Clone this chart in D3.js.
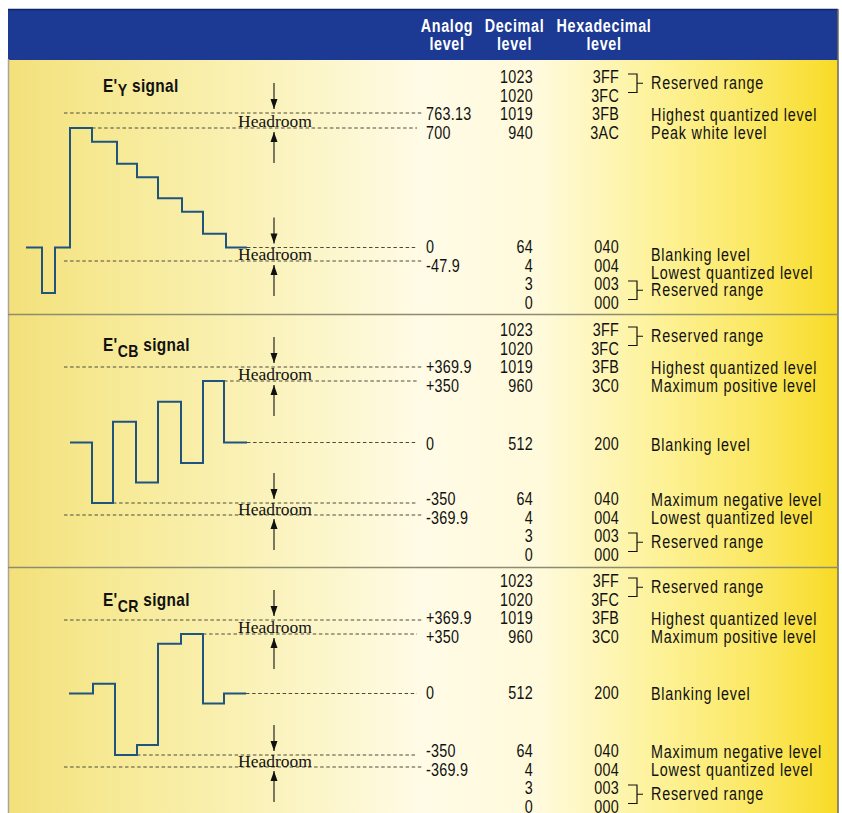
<!DOCTYPE html>
<html><head><meta charset="utf-8">
<script src="https://cdn.jsdelivr.net/npm/d3@7"></script>
<style>body{margin:0;background:#fff}svg{display:block}</style>
</head><body>
<svg id="c" width="842" height="813"></svg>
<script>
// ---------------- DATA ----------------
const headerTop = ["Analog", "Decimal", "Hexadecimal"];
const headerBottom = ["level", "level", "level"];

const signalSubs = ["Y", "CB", "CR"];

// step signals: edge times (arbitrary time units) and level (mV) of each segment
const yTimes  = [0, 16, 29, 44, 66, 91, 111, 132, 156, 177, 200, 221];
const yLevels = [0, -300, 0, 700, 620, 491, 411, 289, 209, 80, 0];
const cbTimes  = [44, 66, 87, 110, 132, 155, 177, 198, 221];
const cbLevels = [0, -350, 118, -232, 232, -118, 350, 0];
const crTimes  = [43, 67, 89, 111, 132, 155, 177, 198, 220];
const crLevels = [0, 57, -350, -293, 293, 350, -57, 0];

// reference levels (mV) drawn as dashed lines
const yRefLevels  = [763.13, 700, 0, -47.9];
const cbRefLevels = [369.9, 350, 0, -350, -369.9];
const crRefLevels = [369.9, 350, 0, -350, -369.9];

// analog labels
const yAnalog  = ["763.13", "700", "0", "-47.9"];
const cbAnalog = ["+369.9", "+350", "0", "-350", "-369.9"];
const crAnalog = ["+369.9", "+350", "0", "-350", "-369.9"];

// decimal / hex code columns (top block, middle, bottom block)
const yDecTop = ["1023", "1020", "1019", "940"], yHexTop = ["3FF", "3FC", "3FB", "3AC"];
const cDecTop = ["1023", "1020", "1019", "960"], cHexTop = ["3FF", "3FC", "3FB", "3C0"];
const decMid = ["512"], hexMid = ["200"];
const decBot = ["64", "4", "3", "0"], hexBot = ["040", "004", "003", "000"];

// descriptions
const yDesc = ["Highest quantized level", "Peak white level", "Blanking level", "Lowest quantized level"];
const cDesc = ["Highest quantized level", "Maximum positive level", "Blanking level", "Maximum negative level", "Lowest quantized level"];
const reservedLabel = "Reserved range";
const headroomLabel = "Headroom";

// ---------------- LAYOUT ----------------
const SANS = "'Liberation Sans',Arial,sans-serif";
const SERIF = "'Liberation Serif','DejaVu Serif',serif";
const SX = 0.82; // horizontal condensing of sans text
const STEP = 18.5;
const x = d3.scaleLinear().domain([0, 221]).range([26, 247]);

const panels = [
  { sub: signalSubs[0], titleY: 92, subShift: 4,
    times: yTimes, levels: yLevels, refs: yRefLevels, analog: yAnalog,
    y: d3.scaleLinear().domain([-300, -47.9, 0, 700, 763.13]).range([293, 261, 247.5, 128, 113]),
    top0: 77, mid: null, bot0: 247,
    decTop: yDecTop, hexTop: yHexTop, decBot: decBot, hexBot: hexBot,
    analogRows: [["t",2],["t",3],["b",0],["b",1]],
    desc: yDesc, descRows: [["t",2],["t",3],["b",0.4],["b",1.4]] },
  { sub: signalSubs[1], titleY: 351, subShift: 6,
    times: cbTimes, levels: cbLevels, refs: cbRefLevels, analog: cbAnalog,
    y: d3.scaleLinear().domain([-369.9, -350, 0, 350, 369.9]).range([515, 503, 442.5, 381, 367]),
    top0: 330, mid: 444, bot0: 499,
    decTop: cDecTop, hexTop: cHexTop, decBot: decBot, hexBot: hexBot,
    analogRows: [["t",2],["t",3],["m",0],["b",0],["b",1]],
    desc: cDesc, descRows: [["t",2],["t",3],["m",0],["b",0],["b",1]] },
  { sub: signalSubs[2], titleY: 606, subShift: 6,
    times: crTimes, levels: crLevels, refs: crRefLevels, analog: crAnalog,
    y: d3.scaleLinear().domain([-369.9, -350, 0, 350, 369.9]).range([767, 755, 693.5, 634, 620]),
    top0: 581, mid: 693, bot0: 751,
    decTop: cDecTop, hexTop: cHexTop, decBot: decBot, hexBot: hexBot,
    analogRows: [["t",2],["t",3],["m",0],["b",0],["b",1]],
    desc: cDesc, descRows: [["t",2],["t",3],["m",0],["b",0],["b",1]] }
];

// ---------------- DRAW ----------------
const svg = d3.select("#c");
const defs = svg.append("defs");
const g = defs.append("linearGradient").attr("id", "bg").attr("x1", 0).attr("x2", 1).attr("y1", 0).attr("y2", 0);
[[0, "#f3e07a"], [0.1, "#f6e890"], [0.3, "#faf2b8"], [0.5, "#fffbe6"], [0.64, "#fffadb"],
 [0.78, "#fdf29a"], [0.9, "#fbe862"], [1, "#f8db26"]].forEach(s =>
  g.append("stop").attr("offset", s[0]).attr("stop-color", s[1]));

// condensed sans label helper
function label(parent, xx, yy, s, o = {}) {
  return parent.append("text")
    .attr("transform", `translate(${xx},${yy}) scale(${o.sx || SX},1)`)
    .attr("text-anchor", o.anchor || "start")
    .attr("font-family", SANS).attr("font-size", o.size || 17.5)
    .attr("font-weight", o.bold ? "bold" : "normal")
    .attr("letter-spacing", o.ls || 0)
    .attr("fill", o.fill || "#111").text(s);
}

svg.append("rect").attr("x", 8).attr("y", 59).attr("width", 830).attr("height", 760).attr("fill", "url(#bg)");
// header
svg.append("rect").attr("x", 8).attr("y", 9).attr("width", 830).attr("height", 51).attr("fill", "#1c3a94");
svg.append("line").attr("x1", 8).attr("x2", 838).attr("y1", 9.5).attr("y2", 9.5).attr("stroke", "#0e2466").attr("stroke-width", 1.5);
const headX = [447, 514.5, 604];
headerTop.forEach((t, i) => {
  label(svg, headX[i], 32, t, { anchor: "middle", bold: true, size: 17.5, ls: 0.8, fill: "#fff" });
  label(svg, headX[i], 50, headerBottom[i], { anchor: "middle", bold: true, size: 17.5, ls: 0.8, fill: "#fff" });
});
// frame & separators
svg.append("line").attr("x1", 8.5).attr("x2", 8.5).attr("y1", 59).attr("y2", 813).attr("stroke", "#a9a79a").attr("stroke-width", 1.5);
svg.append("line").attr("x1", 838).attr("x2", 838).attr("y1", 9).attr("y2", 813).attr("stroke", "#6b6a5c").attr("stroke-width", 1.5);
[314.5, 567.5].forEach(yy => svg.append("line").attr("x1", 8).attr("x2", 838).attr("y1", yy).attr("y2", yy)
  .attr("stroke", "#8d8b70").attr("stroke-width", 1.5));

const line = d3.line().x(d => x(d[0])).curve(d3.curveStepAfter);

function arrow(gp, xx, tipY, tailY) {
  gp.append("line").attr("x1", xx).attr("x2", xx).attr("y1", tailY).attr("y2", tipY)
    .attr("stroke", "#111").attr("stroke-width", 1.1);
  const dir = tipY > tailY ? 1 : -1;
  gp.append("path").attr("d", `M${xx},${tipY} L${xx - 3.5},${tipY - dir * 10} L${xx + 3.5},${tipY - dir * 10} Z`).attr("fill", "#111");
}

panels.forEach(p => {
  const gp = svg.append("g");
  const rowY = (k, i) => k === "t" ? p.top0 + i * STEP : k === "b" ? p.bot0 + i * STEP : p.mid;

  // title
  const t = label(gp, 103, p.titleY, "", { bold: true, size: 17.5, ls: 0.4, sx: 0.88 });
  t.append("tspan").text("E'");
  t.append("tspan").attr("dy", p.subShift).attr("font-size", 16).text(p.sub);
  t.append("tspan").attr("dy", -p.subShift).text(" signal");

  // reference dashed lines
  const lastT = p.times[p.times.length - 1];
  p.refs.forEach((lv, i) => {
    let start = null;
    p.levels.forEach((l, j) => { if (l === lv) start = p.times[j + 1]; });
    const x1 = start === null ? 64 : x(start);
    const x2 = (i === 0 || i === p.refs.length - 1) ? 423 : 417;
    gp.append("line").attr("x1", x1).attr("x2", x2).attr("y1", p.y(lv)).attr("y2", p.y(lv))
      .attr("stroke", "#4d4c3c").attr("stroke-width", 1).attr("stroke-dasharray", "3.5,2.6");
  });

  // headroom arrows and labels
  const pairs = [[p.refs[0], p.refs[1]], [p.refs[p.refs.length - 2], p.refs[p.refs.length - 1]]];
  pairs.forEach(pr => {
    const yt = p.y(pr[0]), yb = p.y(pr[1]);
    arrow(gp, 274, yt - 4, yt - 30);
    arrow(gp, 274, yb + 4, yb + 35);
    gp.append("text").attr("x", 275).attr("y", (yt + yb) / 2 + 6).attr("text-anchor", "middle")
      .attr("font-family", SERIF).attr("font-size", 17.5).attr("fill", "#111").text(headroomLabel);
  });

  // signal
  const pts = p.levels.map((l, i) => [p.times[i], l]).concat([[lastT, p.levels[p.levels.length - 1]]]);
  gp.append("path").attr("d", line.y(d => p.y(d[1]))(pts)).attr("fill", "none")
    .attr("stroke", "#1f547f").attr("stroke-width", 2).attr("stroke-linejoin", "miter");

  // text columns
  const txt = (xx, yy, s, anchor, ls) => label(gp, xx, yy + 6, s, { anchor, ls: ls || 0.3 });
  p.analog.forEach((s, i) => txt(426, rowY(p.analogRows[i][0], p.analogRows[i][1]), s, "start"));
  p.decTop.forEach((s, i) => txt(533, rowY("t", i), s, "end"));
  p.hexTop.forEach((s, i) => txt(619, rowY("t", i), s, "end"));
  if (p.mid !== null) { txt(533, p.mid, decMid[0], "end"); txt(619, p.mid, hexMid[0], "end"); }
  p.decBot.forEach((s, i) => txt(533, rowY("b", i), s, "end"));
  p.hexBot.forEach((s, i) => txt(619, rowY("b", i), s, "end"));
  p.desc.forEach((s, i) => {
    const r = p.descRows[i];
    txt(651, rowY(r[0], r[1]) + 0.5, s, "start", 0.95);
  });
  // reserved range brackets
  [["t", 0], ["b", 2]].forEach(r => {
    const y1 = rowY(r[0], r[1]) - 3, y2 = rowY(r[0], r[1] + 1) - 3, ym = (y1 + y2) / 2;
    gp.append("path").attr("d", `M628,${y1} H637 V${y2} H628 M637,${ym} H643`)
      .attr("fill", "none").attr("stroke", "#111").attr("stroke-width", 1.2);
    txt(651, ym, reservedLabel, "start", 0.95);
  });
});
</script>
</body></html>
